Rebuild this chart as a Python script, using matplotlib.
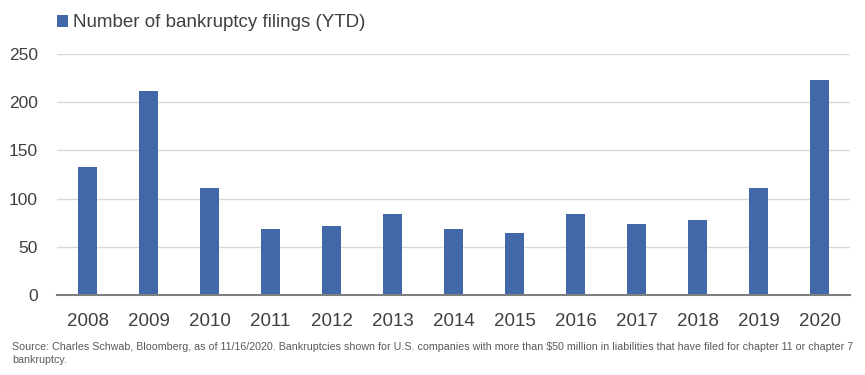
import matplotlib
matplotlib.use("Agg")
import matplotlib.pyplot as plt

plt.rcParams['font.family'] = ['Liberation Sans', 'DejaVu Sans']

# data
years = ["2008", "2009", "2010", "2011", "2012", "2013", "2014",
         "2015", "2016", "2017", "2018", "2019", "2020"]
filings = [133, 212, 111, 68, 72, 84, 68, 64, 84, 74, 78, 111, 223]

bar_color = "#4268A9"
source_note = ("Source: Charles Schwab, Bloomberg, as of 11/16/2020. Bankruptcies shown for U.S. "
               "companies with more than $50 million in liabilities that have filed for chapter 11 or chapter 7\n"
               "bankruptcy.")

fig = plt.figure(figsize=(8.65, 3.75), dpi=100)
ax = fig.add_axes([0.066, 0.2133, 0.917, 0.6427])

x = range(len(years))
ax.bar(x, filings, width=0.31, color=bar_color, zorder=3,
       label="Number of bankruptcy filings (YTD)")

ax.set_xlim(-0.5, len(years) - 0.5)
ax.set_ylim(0, 250)
ax.set_yticks([0, 50, 100, 150, 200, 250])
ax.set_xticks(list(x))
ax.set_xticklabels(years)

ax.grid(axis='y', color='#D9D9D9', linewidth=1, zorder=0)
for side in ['top', 'right', 'left']:
    ax.spines[side].set_visible(False)
ax.spines['bottom'].set_color('#7F7F7F')
ax.spines['bottom'].set_linewidth(1.5)
ax.spines['bottom'].set_zorder(4)

ax.tick_params(axis='y', length=0, pad=14, labelsize=12.5, labelcolor='#404040')
ax.tick_params(axis='x', length=0, pad=13, labelsize=13.5, labelcolor='#404040')

leg = ax.legend(loc='upper left', bbox_to_anchor=(0.0, 1.165), frameon=False,
                fontsize=13.5, handlelength=0.6, handleheight=0.6, handletextpad=0.25,
                borderaxespad=0, borderpad=0)
for t in leg.get_texts():
    t.set_color('#404040')

fig.text(0.014, 0.088, source_note, fontsize=7.7, color='#595959',
         va='top', ha='left', linespacing=1.35)

fig.savefig("out.png", dpi=100)
plt.close(fig)
